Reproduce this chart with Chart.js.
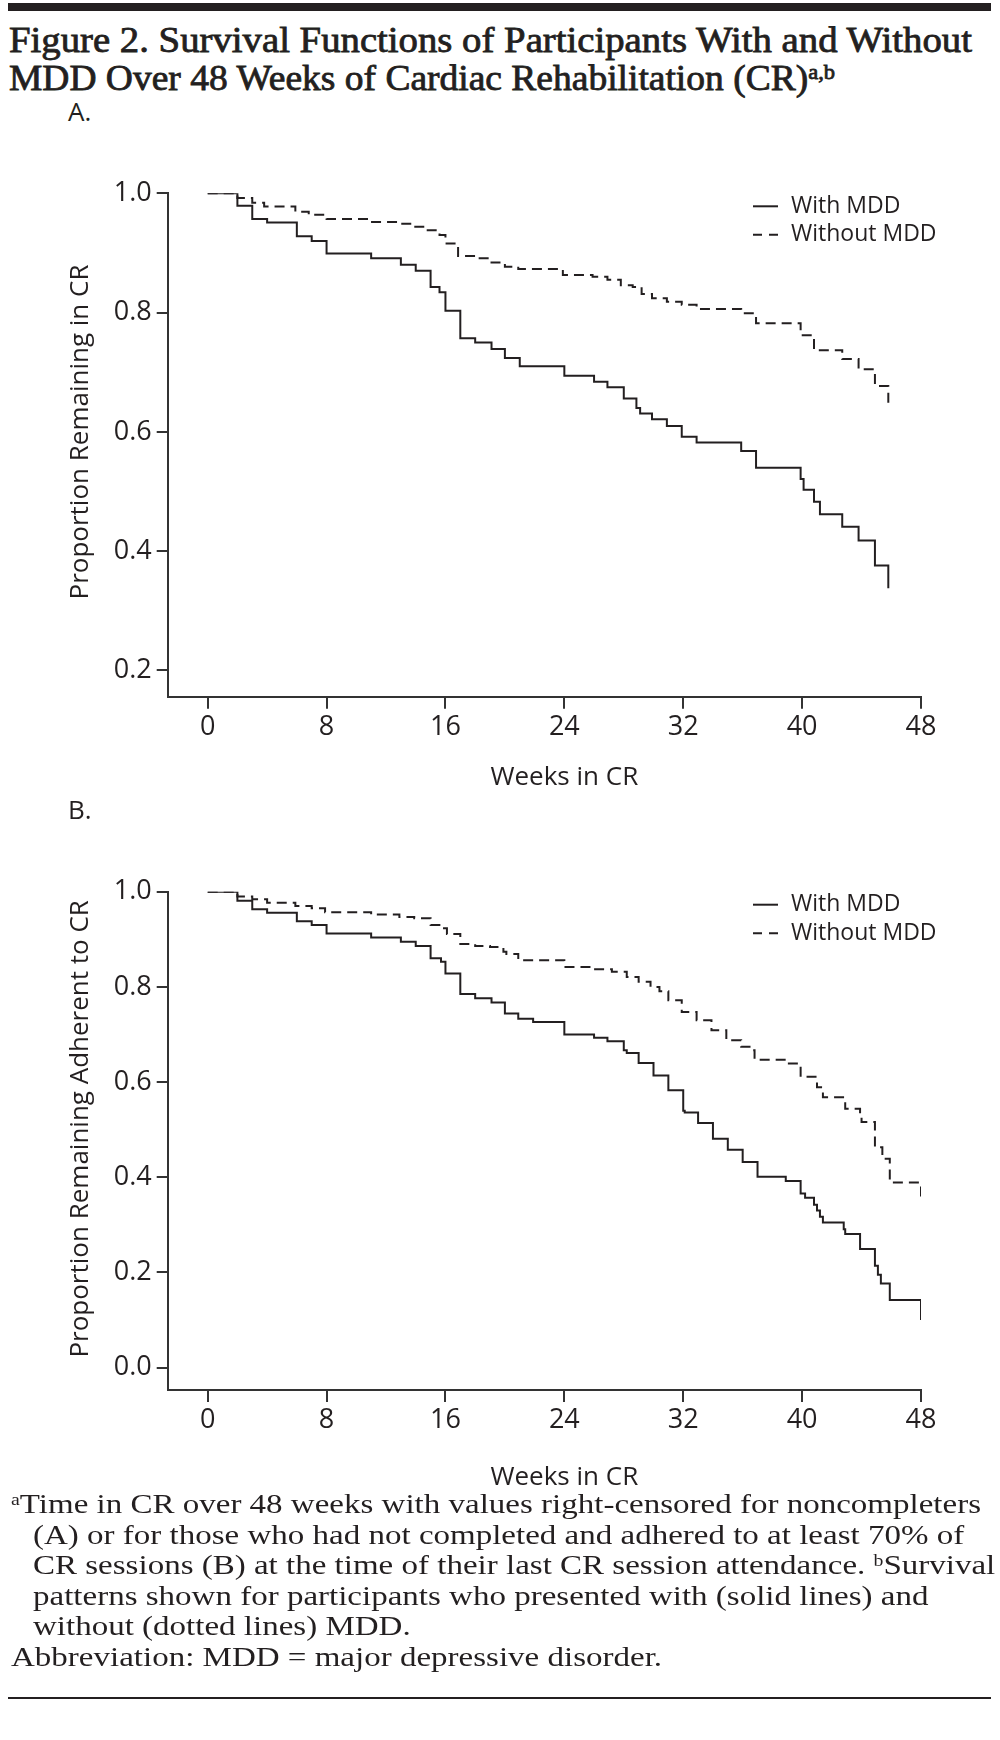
<!DOCTYPE html>
<html>
<head>
<meta charset="utf-8">
<script src="https://cdn.jsdelivr.net/npm/chart.js@4.4.1/dist/chart.umd.min.js"></script>
<style>
  body { margin: 0; background: #fff; width: 1000px; height: 1740px; position: relative; overflow: hidden; color: #231f20; font-family: "Liberation Serif", serif; }
  .bar { position: absolute; left: 8px; width: 983px; background: #231f20; }
  .line { position: absolute; white-space: nowrap; transform-origin: 0 0; }
  .title { font-size: 36px; font-weight: normal; line-height: 36px; -webkit-text-stroke: 0.8px #231f20; }
  .foot { font-size: 28px; line-height: 28px; }
  sup { font-size: 0.6em; vertical-align: 0; position: relative; top: -0.5em; }
  .panel { position: absolute; left: 68px; font-family: "Open Sans"; font-size: 26px; line-height: 26px; }
  canvas { position: absolute; left: 0; }
</style>
</head>
<body>
<div class="bar" style="top:3px;height:8px"></div>
<div class="line title" id="t1" style="left:9px;top:22px">Figure 2. Survival Functions of Participants With and Without</div>
<div class="line title" id="t2" style="left:9px;top:60px">MDD Over 48 Weeks of Cardiac Rehabilitation (CR)<sup>a,b</sup></div>

<div class="panel" style="top:98px">A.</div>
<canvas id="chartA" width="1000" height="680" style="top:120px"></canvas>

<div class="panel" style="top:796px">B.</div>
<canvas id="chartB" width="1000" height="680" style="top:820px"></canvas>

<div class="line foot" id="f1" style="left:11px;top:1490px"><sup>a</sup>Time in CR over 48 weeks with values right-censored for noncompleters</div>
<div class="line foot" style="left:33px;top:1521px">(A) or for those who had not completed and adhered to at least 70% of</div>
<div class="line foot" style="left:33px;top:1551px">CR sessions (B) at the time of their last CR session attendance. <sup>b</sup>Survival</div>
<div class="line foot" style="left:33px;top:1582px">patterns shown for participants who presented with (solid lines) and</div>
<div class="line foot" style="left:33px;top:1612px">without (dotted lines) MDD.</div>
<div class="line foot" style="left:11px;top:1643px">Abbreviation: MDD = major depressive disorder.</div>
<div class="bar" style="top:1697px;height:2px"></div>

<script>
// Panel A: time remaining in CR
const weeksA_mdd = [0, 2.0, 3.0, 4.0, 6.0, 7.0, 8.0, 11.0, 13.0, 14.0, 15.0, 15.6, 16.0, 17.0, 18.0, 19.1, 20.0, 21.0, 24.0, 26.0, 26.9, 28.0, 28.85, 29.1, 29.9, 30.9, 31.9, 32.9, 35.9, 36.9, 39.9, 40.1, 40.8, 41.2, 42.7, 43.8, 44.9, 45.8];
const survA_mdd  = [1.0, 0.979, 0.957, 0.951, 0.928, 0.920, 0.899, 0.891, 0.880, 0.870, 0.843, 0.834, 0.803, 0.757, 0.750, 0.739, 0.724, 0.710, 0.694, 0.684, 0.675, 0.656, 0.640, 0.631, 0.621, 0.610, 0.592, 0.582, 0.568, 0.540, 0.521, 0.503, 0.483, 0.462, 0.441, 0.418, 0.376, 0.338];
const weeksA_no  = [0, 2.0, 3.0, 3.8, 5.9, 6.8, 8.0, 10.9, 12.9, 13.9, 14.6, 15.6, 16.0, 16.85, 18.0, 19.1, 20.0, 20.9, 23.9, 25.9, 26.9, 27.8, 28.6, 29.2, 29.9, 30.9, 31.9, 32.9, 35.9, 36.8, 36.9, 39.9, 40.8, 42.7, 43.8, 44.9, 45.8];
const survA_no   = [1.0, 0.992, 0.984, 0.978, 0.969, 0.964, 0.957, 0.952, 0.949, 0.944, 0.938, 0.930, 0.916, 0.895, 0.891, 0.884, 0.877, 0.873, 0.863, 0.860, 0.855, 0.846, 0.843, 0.831, 0.824, 0.818, 0.813, 0.806, 0.799, 0.795, 0.782, 0.762, 0.737, 0.722, 0.705, 0.677, 0.646];

// Panel B: remaining adherent to CR
const weeksB_mdd = [0, 2.0, 3.0, 4.0, 6.0, 7.0, 8.0, 11.0, 13.0, 14.0, 15.0, 15.7, 16.0, 17.0, 18.0, 19.1, 20.0, 20.9, 21.9, 24.0, 26.0, 26.9, 28.0, 28.2, 29.0, 30.0, 31.0, 32.0, 32.1, 33.0, 34.0, 35.0, 36.0, 37.0, 38.9, 39.9, 40.2, 40.8, 41.0, 41.2, 41.4, 42.8, 42.9, 43.9, 44.9, 45.1, 45.3, 45.9, 48.0];
const survB_mdd  = [1.0, 0.981, 0.963, 0.956, 0.938, 0.930, 0.912, 0.904, 0.895, 0.886, 0.860, 0.853, 0.828, 0.785, 0.776, 0.767, 0.744, 0.733, 0.726, 0.700, 0.693, 0.686, 0.667, 0.661, 0.640, 0.614, 0.583, 0.540, 0.536, 0.514, 0.481, 0.458, 0.432, 0.401, 0.392, 0.366, 0.357, 0.342, 0.330, 0.317, 0.305, 0.291, 0.281, 0.249, 0.214, 0.195, 0.177, 0.142, 0.100];
const weeksB_no  = [0, 2.0, 3.0, 4.0, 5.9, 7.0, 7.9, 11.0, 12.9, 13.9, 15.0, 15.7, 16.1, 17.0, 18.0, 19.0, 19.9, 20.1, 20.9, 24.0, 26.0, 27.2, 28.2, 29.0, 29.8, 30.4, 31.0, 31.9, 32.9, 33.9, 34.9, 35.9, 36.6, 36.8, 38.9, 39.9, 41.0, 41.4, 42.9, 43.9, 44.0, 44.9, 45.4, 45.9, 48.0];
const survB_no   = [1.0, 0.990, 0.984, 0.977, 0.970, 0.965, 0.957, 0.952, 0.947, 0.944, 0.930, 0.923, 0.911, 0.890, 0.886, 0.884, 0.874, 0.869, 0.856, 0.842, 0.837, 0.832, 0.821, 0.811, 0.800, 0.791, 0.772, 0.747, 0.730, 0.709, 0.688, 0.674, 0.667, 0.647, 0.639, 0.611, 0.589, 0.568, 0.544, 0.533, 0.516, 0.463, 0.439, 0.389, 0.350];

const xTicks = [0, 8, 16, 24, 32, 40, 48];
const yTicksA = [0.2, 0.4, 0.6, 0.8, 1.0];
const yTicksB = [0.0, 0.2, 0.4, 0.6, 0.8, 1.0];
const seriesLabels = ["With MDD", "Without MDD"];

const ink = "#231f20";
const axisColor = "#333333";
const sans = "Open Sans";

function toPoints(weeks, surv) {
  return weeks.map((w, i) => ({ x: w, y: surv[i] }));
}

// axis titles + legend, drawn by hand so they sit where the original has them
const decorPlugin = {
  id: "decor",
  afterDraw(chart, args, opts) {
    const { ctx, chartArea, scales } = chart;
    ctx.save();
    ctx.fillStyle = ink;
    ctx.textAlign = "center";
    ctx.textBaseline = "middle";
    ctx.font = `26px "${sans}"`;
    ctx.fillText(opts.xTitle, scales.x.getPixelForValue(24), chartArea.bottom + opts.xTitleGap);

    ctx.save();
    ctx.translate(81, (chartArea.top + chartArea.bottom) / 2 - opts.yTitleShift);
    ctx.rotate(-Math.PI / 2);
    ctx.fillText(opts.yTitle, 0, 0);
    ctx.restore();

    ctx.font = `23px "${sans}"`;
    ctx.textAlign = "left";
    chart.data.datasets.forEach((ds, i) => {
      const y = chartArea.top + 13 + i * 28.5;
      ctx.strokeStyle = ds.borderColor;
      ctx.lineWidth = 2;
      ctx.setLineDash(ds.borderDash && ds.borderDash.length ? [9, 7] : []);
      ctx.beginPath();
      ctx.moveTo(753, y);
      ctx.lineTo(778, y);
      ctx.stroke();
      ctx.fillText(ds.label, 791, y);
    });
    ctx.restore();
  }
};

function makeChart(id, mdd, noMdd, yMin, yTicks, yTitle, areaTop, areaBottom, xTitleGap, yTitleShift) {
  const canvas = document.getElementById(id);
  return new Chart(canvas, {
    type: "line",
    data: {
      datasets: [
        { label: seriesLabels[0], data: mdd, borderColor: ink, borderWidth: 2, stepped: "before", pointRadius: 0, fill: false },
        { label: seriesLabels[1], data: noMdd, borderColor: ink, borderWidth: 2, borderDash: [10, 6], stepped: "before", pointRadius: 0, fill: false }
      ]
    },
    options: {
      responsive: false,
      animation: false,
      devicePixelRatio: 1,
      events: [],
      layout: { padding: { left: 0, right: 79, top: areaTop, bottom: 0 } },
      plugins: {
        legend: { display: false },
        tooltip: { enabled: false },
        decor: { xTitle: "Weeks in CR", yTitle: yTitle, xTitleGap: xTitleGap, yTitleShift: yTitleShift }
      },
      scales: {
        x: {
          type: "linear",
          min: -2.69,
          max: 48,
          afterBuildTicks: (s) => { s.ticks = xTicks.map((v) => ({ value: v })); },
          afterFit: (s) => { s.height = canvas.height - areaBottom; },
          grid: { display: true, drawOnChartArea: false, drawTicks: true, tickLength: 12, color: axisColor, lineWidth: 2 },
          border: { display: true, color: axisColor, width: 2 },
          ticks: { color: ink, font: { family: sans, size: 27 }, padding: 2, maxRotation: 0, autoSkip: false }
        },
        y: {
          type: "linear",
          min: yMin,
          max: 1.0,
          afterBuildTicks: (s) => { s.ticks = yTicks.map((v) => ({ value: v })); },
          afterFit: (s) => { s.width = 167.7; },
          grid: { display: true, drawOnChartArea: false, drawTicks: true, tickLength: 11, color: axisColor, lineWidth: 2 },
          border: { display: true, color: axisColor, width: 2 },
          ticks: { color: ink, font: { family: sans, size: 27 }, padding: 5, callback: (v) => Number(v).toFixed(1) }
        }
      }
    },
    plugins: [decorPlugin]
  });
}

makeChart("chartA", toPoints(weeksA_mdd, survA_mdd), toPoints(weeksA_no, survA_no),
  0.156, yTicksA, "Proportion Remaining in CR", 73.3, 576.7, 81, 13);
makeChart("chartB", toPoints(weeksB_mdd, survB_mdd), toPoints(weeksB_no, survB_no),
  -0.047, yTicksB, "Proportion Remaining Adherent to CR", 71.7, 570, 88, 12);

// squeeze the serif text lines to the widths of the original
function fitLine(el, target) {
  const k = target / el.getBoundingClientRect().width;
  el.style.transform = `scaleX(${k})`;
}
fitLine(document.getElementById("t1"), 963);
fitLine(document.getElementById("t2"), 826);
const f1 = document.getElementById("f1");
const kFoot = 970 / f1.getBoundingClientRect().width;
document.querySelectorAll(".foot").forEach((el) => { el.style.transform = `scaleX(${kFoot})`; });
</script>
</body>
</html>
